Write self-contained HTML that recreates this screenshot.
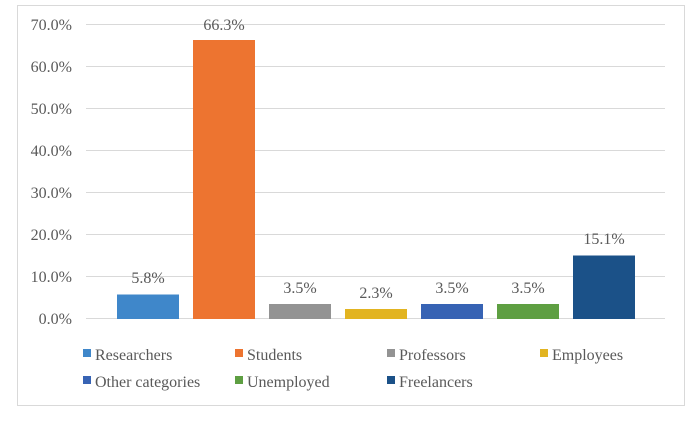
<!DOCTYPE html>
<html><head><style>
body{margin:0;background:#fff;}
svg text{font-family:"Liberation Serif",serif;fill:#595959;}
</style></head><body>
<svg width="700" height="416" xmlns="http://www.w3.org/2000/svg">
<rect x="17.5" y="5.5" width="667" height="400" fill="#fff" stroke="#d9d9d9"/>
<g stroke="#d9d9d9" stroke-width="1">
<line x1="86" x2="665" y1="24.5" y2="24.5"/>
<line x1="86" x2="665" y1="66.5" y2="66.5"/>
<line x1="86" x2="665" y1="108.5" y2="108.5"/>
<line x1="86" x2="665" y1="150.5" y2="150.5"/>
<line x1="86" x2="665" y1="192.5" y2="192.5"/>
<line x1="86" x2="665" y1="234.5" y2="234.5"/>
<line x1="86" x2="665" y1="276.5" y2="276.5"/>
<line x1="86" x2="665" y1="318.5" y2="318.5"/>
</g>
<g font-size="16" text-anchor="end">
<text x="72" y="30">70.0%</text>
<text x="72" y="72">60.0%</text>
<text x="72" y="114">50.0%</text>
<text x="72" y="156">40.0%</text>
<text x="72" y="198">30.0%</text>
<text x="72" y="240">20.0%</text>
<text x="72" y="282">10.0%</text>
<text x="72" y="324">0.0%</text>
</g>
<g>
<rect x="117" y="294.5" width="62" height="24.5" fill="#3f87ca"/>
<rect x="193" y="40" width="62" height="279" fill="#ed7430"/>
<rect x="269" y="304" width="62" height="15" fill="#939393"/>
<rect x="345" y="309" width="62" height="10" fill="#e2b421"/>
<rect x="421" y="304" width="62" height="15" fill="#3763b4"/>
<rect x="497" y="304" width="62" height="15" fill="#5e9f42"/>
<rect x="573" y="255.5" width="62" height="63.5" fill="#1b5188"/>
</g>
<g font-size="16" text-anchor="middle">
<text x="148" y="283">5.8%</text>
<text x="224" y="30">66.3%</text>
<text x="300" y="293">3.5%</text>
<text x="376" y="298">2.3%</text>
<text x="452" y="293">3.5%</text>
<text x="528" y="293">3.5%</text>
<text x="604" y="244">15.1%</text>
</g>
<g font-size="16">
<rect x="83" y="349" width="8" height="8" fill="#3f87ca"/><text x="95" y="360">Researchers</text>
<rect x="235" y="349" width="8" height="8" fill="#ed7430"/><text x="247" y="360">Students</text>
<rect x="387" y="349" width="8" height="8" fill="#939393"/><text x="399" y="360">Professors</text>
<rect x="540" y="349" width="8" height="8" fill="#e2b421"/><text x="552" y="360">Employees</text>
<rect x="83" y="376" width="8" height="8" fill="#3763b4"/><text x="95" y="387">Other categories</text>
<rect x="235" y="376" width="8" height="8" fill="#5e9f42"/><text x="247" y="387">Unemployed</text>
<rect x="387" y="376" width="8" height="8" fill="#1b5188"/><text x="399" y="387">Freelancers</text>
</g>
</svg>
</body></html>
